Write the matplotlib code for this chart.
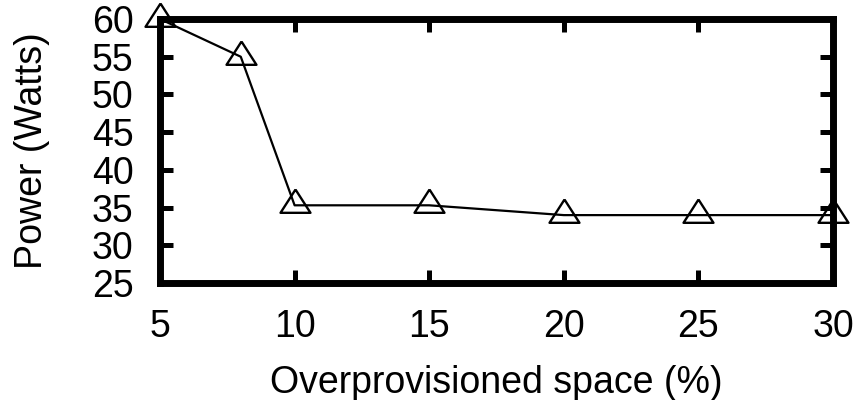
import matplotlib
matplotlib.use("Agg")
import matplotlib.pyplot as plt

plt.rcParams["font.family"] = ["Liberation Sans", "DejaVu Sans"]

space_pct = [5, 8, 10, 15, 20, 25, 30]
power_watts = [60, 55, 35.3, 35.3, 34, 34, 34]
x_ticks = [5, 10, 15, 20, 25, 30]
y_ticks = [25, 30, 35, 40, 45, 50, 55, 60]

# gnuplot-style open triangle: point sits below the box centre
tri = [(0, 48), (-45, -22), (45, -22), (0, 48)]

fig = plt.figure(figsize=(8.63, 4.0), dpi=100)
ax = fig.add_axes([0.1854, 0.2925, 0.7799, 0.66])

ax.plot(space_pct, power_watts, color="black", linewidth=1.6,
        marker=tri, markersize=23, markerfacecolor="none",
        markeredgecolor="black", markeredgewidth=1.7,
        clip_on=False, zorder=5)

ax.set_xlim(5, 30)
ax.set_ylim(25, 60)
ax.set_xticks(x_ticks)
ax.set_yticks(y_ticks)

for s in ax.spines.values():
    s.set_linewidth(5)
ax.tick_params(direction="in", length=9.5, width=3.6, labelsize=27,
               top=True, right=True)
ax.tick_params(axis="y", pad=19)
ax.tick_params(axis="x", pad=19)

ax.set_xlabel("Overprovisioned space (%)", fontsize=27, labelpad=14)
ax.set_ylabel("Power (Watts)", fontsize=27, labelpad=30)

fig.savefig("out.png", dpi=100)
